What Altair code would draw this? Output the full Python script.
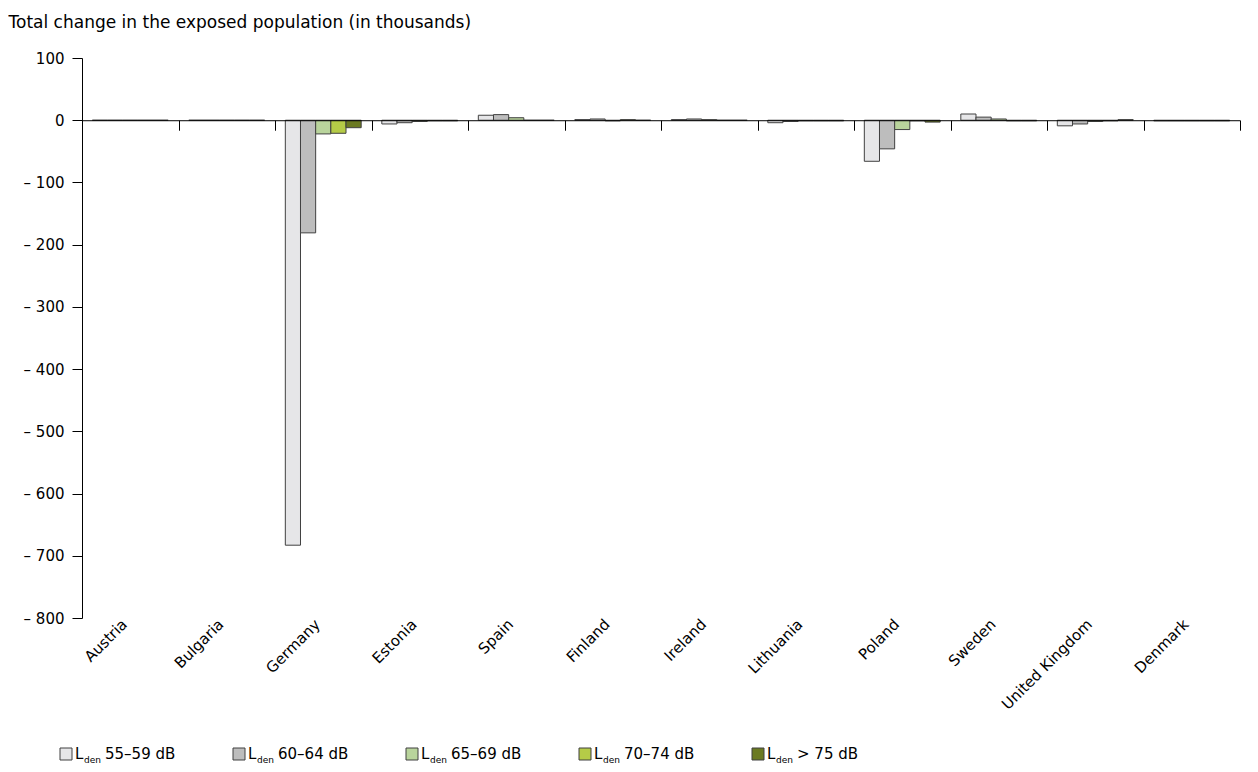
import altair as alt
import pandas as pd

countries = ["Austria", "Bulgaria", "Germany", "Estonia", "Spain", "Finland",
             "Ireland", "Lithuania", "Poland", "Sweden", "United Kingdom", "Denmark"]
series = ["55–59 dB", "60–64 dB", "65–69 dB", "70–74 dB", "> 75 dB"]
colors = ["#E6E6E8", "#BDBDBD", "#B9D49C", "#B5CB47", "#6B7A22"]

s55 = [0, 0, -683, -6, 8, 1, 1, -4, -66, 10, -9, -1]
s60 = [0, 0, -181, -4, 9, 2, 2, -2, -46, 5, -6, -1]
s65 = [0, 0, -22, -2, 4, -1, 1, -1, -15, 2, -2, -1]
s70 = [0, 0, -21, -1, 0, 1, 0, -1, -1, -1, -1, -1]
s75 = [0, 0, -12, -1, 0, 0, 0, -1, -3, -1, 1, -1]
y_ticks = list(range(-800, 101, 100))

rows = []
for sname, vals in zip(series, [s55, s60, s65, s70, s75]):
    for c, v in zip(countries, vals):
        rows.append({"country": c, "series": sname, "value": v})
df = pd.DataFrame(rows)

W, H = 1158, 560
FONT = "DejaVu Sans"
zero_offset = -(H - H * 100 / 900)

color_scale = alt.Scale(domain=series, range=colors)
x_scale = alt.Scale(paddingInner=0, paddingOuter=0)

bars = alt.Chart(df).mark_bar(stroke="#404040", strokeWidth=1).encode(
    x=alt.X("country:N", sort=countries, scale=x_scale,
            axis=alt.Axis(orient="bottom", domain=False, ticks=False, title=None,
                          labelAngle=-45, labelAlign="right", labelBaseline="bottom",
                          labelPadding=9, labelFontSize=15, labelColor="#000",
                          labelFont=FONT)),
    xOffset=alt.XOffset("series:N", sort=series,
                        scale=alt.Scale(paddingInner=0, paddingOuter=0.68)),
    y=alt.Y("value:Q", scale=alt.Scale(domain=[-800, 100], nice=False, zero=False),
            axis=alt.Axis(values=y_ticks, grid=False, domainColor="#000",
                          tickColor="#000", tickSize=10, labelPadding=8,
                          labelFontSize=15, labelColor="#000", labelFont=FONT,
                          labelExpr="datum.value < 0 ? '– ' + abs(datum.value) : datum.value",
                          title="Total change in the exposed population (in thousands)",
                          titleAngle=0, titleAlign="left", titleBaseline="top",
                          titleX=-74, titleY=-44, titleFontSize=17,
                          titleFontWeight="normal", titleColor="#000", titleFont=FONT)),
    color=alt.Color("series:N", scale=color_scale, legend=None),
)

zero_axis = alt.Chart(pd.DataFrame({"country": countries})).mark_point(opacity=0).encode(
    x=alt.X("country:N", sort=countries, scale=x_scale,
            axis=alt.Axis(orient="bottom", offset=zero_offset, labels=False,
                          domain=True, ticks=True, tickBand="extent", tickSize=10,
                          domainColor="#000", tickColor="#000", title=None, zindex=1)),
    y=alt.datum(0),
)

main = alt.layer(bars, zero_axis).resolve_axis(x="independent").properties(width=W, height=H)

leg_df = pd.DataFrame({"series": series})
leg_x = alt.X("series:N", sort=series, axis=None, bandPosition=0,
              scale=alt.Scale(range=[-16, 849], paddingInner=0, paddingOuter=0, align=0))
leg_base = alt.Chart(leg_df).encode(x=leg_x, y=alt.value(10))
leg_sq = leg_base.mark_square(size=144, stroke="#404040", strokeWidth=1, opacity=1).encode(
    fill=alt.Fill("series:N", scale=color_scale, legend=None))
leg_L = leg_base.mark_text(text="L", align="left", baseline="middle", dx=9,
                           fontSize=15, font=FONT, color="#000")
leg_den = leg_base.mark_text(text="den", align="left", baseline="middle", dx=18, dy=6,
                             fontSize=9, font=FONT, color="#000")
leg_txt = leg_base.mark_text(align="left", baseline="middle", dx=39,
                             fontSize=15, font=FONT, color="#000").encode(text="series:N")
legend = alt.layer(leg_sq, leg_L, leg_den, leg_txt).properties(width=W, height=20)

chart = alt.vconcat(main, legend, spacing=31).properties(
    padding={"left": 0, "top": 5, "right": 5, "bottom": 5}
).configure(font=FONT).configure_view(strokeWidth=0, stroke="transparent")

chart.save("out.html", embed_options={"renderer": "svg", "actions": False})
